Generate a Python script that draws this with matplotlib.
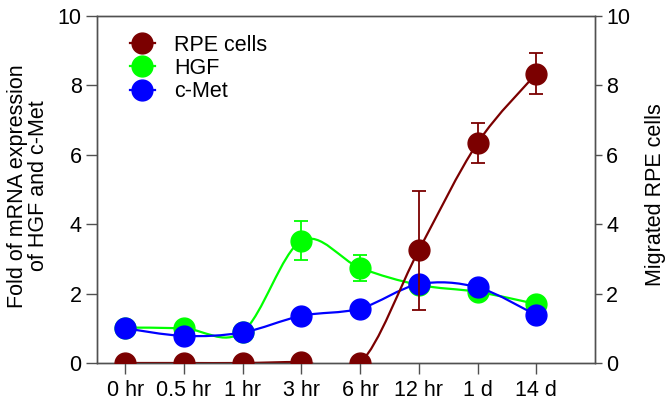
import numpy as np
import matplotlib
matplotlib.use('Agg')
from matplotlib import pyplot as plt
from matplotlib.path import Path
from matplotlib.patches import PathPatch
from matplotlib.lines import Line2D

plt.rcParams['font.family'] = ['Liberation Sans', 'DejaVu Sans']

'''data read off the reference'''
times = ['0 hr', '0.5 hr', '1 hr', '3 hr', '6 hr', '12 hr', '1 d', '14 d']
rpe = [0, 0, 0, 0.03, 0, 3.25, 6.34, 8.34]
rpe_err = [0, 0, 0, 0, 0, 1.72, 0.58, 0.59]
hgf = [1.02, 1.0, 0.9, 3.52, 2.74, 2.25, 2.05, 1.7]
hgf_err = [0, 0, 0, 0.56, 0.38, 0, 0.18, 0]
cmet = [1.0, 0.78, 0.88, 1.36, 1.57, 2.27, 2.18, 1.38]
cmet_err = [0, 0, 0, 0, 0, 0, 0.12, 0]

red = '#7b0000'
green = '#00ff00'
blue = '#0000ff'
fs = 15.5


def smooth_path(x, y):
    '''catmull-rom curve through the points, as bezier segments'''
    x = np.asarray(x, float)
    y = np.asarray(y, float)
    pts = np.column_stack([x, y])
    n = len(pts)
    verts = [pts[0]]
    codes = [Path.MOVETO]
    for i in range(n - 1):
        p0 = pts[i - 1] if i > 0 else pts[i]
        p1 = pts[i]
        p2 = pts[i + 1]
        p3 = pts[i + 2] if i + 2 < n else pts[i + 1]
        c1 = p1 + (p2 - p0) / 6.0
        c2 = p2 - (p3 - p1) / 6.0
        verts += [c1, c2, p2]
        codes += [Path.CURVE4] * 3
    return Path(verts, codes)


fig = plt.figure(figsize=(6.72, 4.08), dpi=100)
ax = fig.add_axes([97 / 672, 45 / 408, 498 / 672, 347 / 408])
ax2 = ax.twinx()
xs = np.arange(len(times))

ms = 15
for axis, vals, errs, col, z in [(ax, hgf, hgf_err, green, 2), (ax, cmet, cmet_err, blue, 3)]:
    axis.add_patch(PathPatch(smooth_path(xs, vals), fill=False, edgecolor=col, lw=1.6, zorder=z))
    e = np.array(errs)
    m = e > 0
    axis.errorbar(xs[m], np.array(vals)[m], yerr=e[m], fmt='none', ecolor=col, elinewidth=1.3,
                  capsize=5, capthick=1.3, zorder=z)
    axis.plot(xs, vals, 'o', color=col, ms=ms, zorder=z + 0.5)

ax2.add_patch(PathPatch(smooth_path(xs, rpe), fill=False, edgecolor=red, lw=1.6, zorder=2))
e = np.array(rpe_err)
m = e > 0
ax2.errorbar(xs[m], np.array(rpe)[m], yerr=e[m], fmt='none', ecolor=red, elinewidth=1.3,
             capsize=5, capthick=1.3, zorder=2)
ax2.plot(xs, rpe, 'o', color=red, ms=ms, zorder=3)

for a in (ax, ax2):
    a.set_xlim(-0.48, 8.0)
    a.set_ylim(0, 10)
    a.set_yticks([0, 2, 4, 6, 8, 10])
    for s in a.spines.values():
        s.set_color('#505050')
        s.set_linewidth(1.0)
ax.set_xticks(xs)
ax.set_xticklabels(times)
ax.tick_params(axis='x', direction='out', length=8, width=1, color='#505050', labelsize=fs, pad=4)
ax.tick_params(axis='y', direction='out', length=8, width=1, color='#505050', labelsize=fs, pad=3)
ax2.tick_params(axis='y', direction='out', length=5, width=1, color='#505050', labelsize=fs, pad=3)

# axis titles placed by hand to sit where the reference has them
fig.text(28 / 672, 1 - 186 / 408, 'Fold of mRNA expression\nof HGF and c-Met', rotation=90,
         ha='center', va='center', multialignment='center', fontsize=fs, linespacing=1.05)
fig.text(656 / 672, 1 - 195 / 408, 'Migrated RPE cells', rotation=90,
         ha='center', va='center', fontsize=fs)

handles = [Line2D([], [], color=red, marker='o', ms=ms, lw=1.6),
           Line2D([], [], color=green, marker='o', ms=ms, lw=1.6),
           Line2D([], [], color=blue, marker='o', ms=ms, lw=1.6)]
ax2.legend(handles, ['RPE cells', 'HGF', 'c-Met'], loc='upper left', bbox_to_anchor=(0.066, 0.946),
           frameon=False, fontsize=fs, handlelength=1.16, handletextpad=0.9, labelspacing=0.1,
           borderaxespad=0, borderpad=0)

plt.savefig('out.png', dpi=100)
